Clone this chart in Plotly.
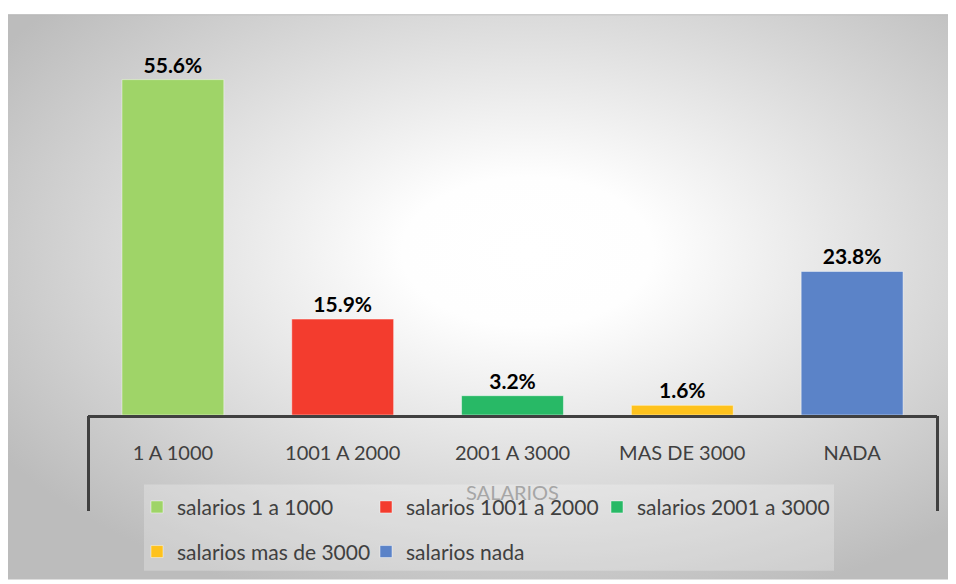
import base64
import plotly.graph_objects as go

# data
categories = ["1 A 1000", "1001 A 2000", "2001 A 3000", "MAS DE 3000", "NADA"]
series_names = ["salarios 1 a 1000", "salarios 1001 a 2000", "salarios 2001 a 3000",
                "salarios mas de 3000", "salarios nada"]
percent = [55.6, 15.9, 3.2, 1.6, 23.8]
colors = ["#9fd468", "#f33c2e", "#28b966", "#fec21d", "#5b83c8"]

FONT = "Lato"
TEXT_GRAY = "#404040"

# the page body keeps its 8px default margin, so work in screen pixels
# and shift everything by that offset
OFF = 8
W, H = 956 - OFF, 584 - OFF
plot_left, plot_right, plot_top, plot_bottom = 88, 937, 41, 418
ml, mr = plot_left - OFF, W - (plot_right - OFF)
mt, mb = plot_top - OFF, H - (plot_bottom - OFF)
pw, ph = W - ml - mr, H - mt - mb


def px_x(x):
    return (x - plot_left) / pw


def px_y(y):
    return (plot_bottom - y) / ph


# legend entry anchors (screen px): two rows like the original
legend_pos = [(137, 511), (366, 511), (597, 511), (137, 556), (366, 556)]

# radial gradient background (chart area of the original)
svg = (
    '<svg xmlns="http://www.w3.org/2000/svg" width="952" height="570" '
    'viewBox="0 0 952 570" preserveAspectRatio="none">'
    '<defs><radialGradient id="g" cx="0.55" cy="0.42" r="0.66">'
    '<stop offset="0" stop-color="#ffffff"/>'
    '<stop offset="0.2" stop-color="#fefefe"/>'
    '<stop offset="1" stop-color="#bcbcbc"/>'
    '</radialGradient></defs>'
    '<rect width="952" height="570" fill="url(#g)"/>'
    '<line x1="0" y1="0.5" x2="952" y2="0.5" stroke="#b8b8b8" stroke-width="1"/>'
    '</svg>'
)
bg_src = "data:image/svg+xml;base64," + base64.b64encode(svg.encode()).decode()

fig = go.Figure()

legends = {}
for i, (cat, name, val, col) in enumerate(zip(categories, series_names, percent, colors)):
    leg_id = "legend" if i == 0 else f"legend{i + 1}"
    fig.add_trace(go.Bar(
        x=[cat],
        y=[val],
        name=name,
        showlegend=True,
        marker=dict(color=col, line=dict(color="rgba(255,255,255,0.45)", width=1)),
        texttemplate="%{y:.1f}%",
        textposition="outside",
        textfont=dict(family=FONT, size=21, color="black", weight="bold"),
        cliponaxis=False,
        legend=leg_id,
    ))
    lx, ly = legend_pos[i]
    legends[leg_id] = dict(
        orientation="h", x=px_x(lx), y=px_y(ly), xanchor="left", yanchor="middle",
        bgcolor="rgba(0,0,0,0)",
        font=dict(family=FONT, size=21, color=TEXT_GRAY),
    )

# empty helper trace so the bracket axis (end ticks only) gets drawn
fig.add_trace(go.Scatter(x=[], y=[], xaxis="x2", yaxis="y", showlegend=False, hoverinfo="skip"))

fig.update_layout(
    width=W,
    height=H,
    margin=dict(l=ml, r=mr, t=mt, b=mb),
    showlegend=True,
    paper_bgcolor="white",
    plot_bgcolor="rgba(0,0,0,0)",
    barmode="overlay",
    bargap=0.4,
    font=dict(family=FONT, color=TEXT_GRAY),
    images=[dict(
        source=bg_src, xref="paper", yref="paper",
        x=px_x(4), y=px_y(14), sizex=952 / pw, sizey=570 / ph,
        xanchor="left", yanchor="top", sizing="stretch", layer="below",
    )],
    shapes=[dict(
        type="rect", xref="paper", yref="paper",
        x0=px_x(144), x1=px_x(834), y0=px_y(488), y1=px_y(575),
        fillcolor="rgba(255,255,255,0.25)", line=dict(width=0), layer="below",
    )],
    xaxis=dict(
        type="category",
        range=[-0.5, 4.5],
        automargin=False,
        showline=True, linecolor=TEXT_GRAY, linewidth=3,
        ticks="", showgrid=False,
        tickfont=dict(family=FONT, size=20, color=TEXT_GRAY),
        ticklabelstandoff=18,
        title=dict(text="SALARIOS", font=dict(family=FONT, size=20, color="#a6a6a6"), standoff=23),
        fixedrange=True,
    ),
    xaxis2=dict(
        overlaying="x", anchor="y", side="bottom",
        range=[-0.5, 4.5],
        automargin=False,
        tickmode="array", tickvals=[-0.5, 4.5],
        ticks="outside", ticklen=95, tickwidth=3, tickcolor=TEXT_GRAY,
        showticklabels=False, showgrid=False, showline=False, zeroline=False,
        fixedrange=True,
    ),
    yaxis=dict(
        range=[0, 62], visible=False, showgrid=False, zeroline=False, fixedrange=True,
        automargin=False,
    ),
    **legends,
)

fig.write_html("out.html")
